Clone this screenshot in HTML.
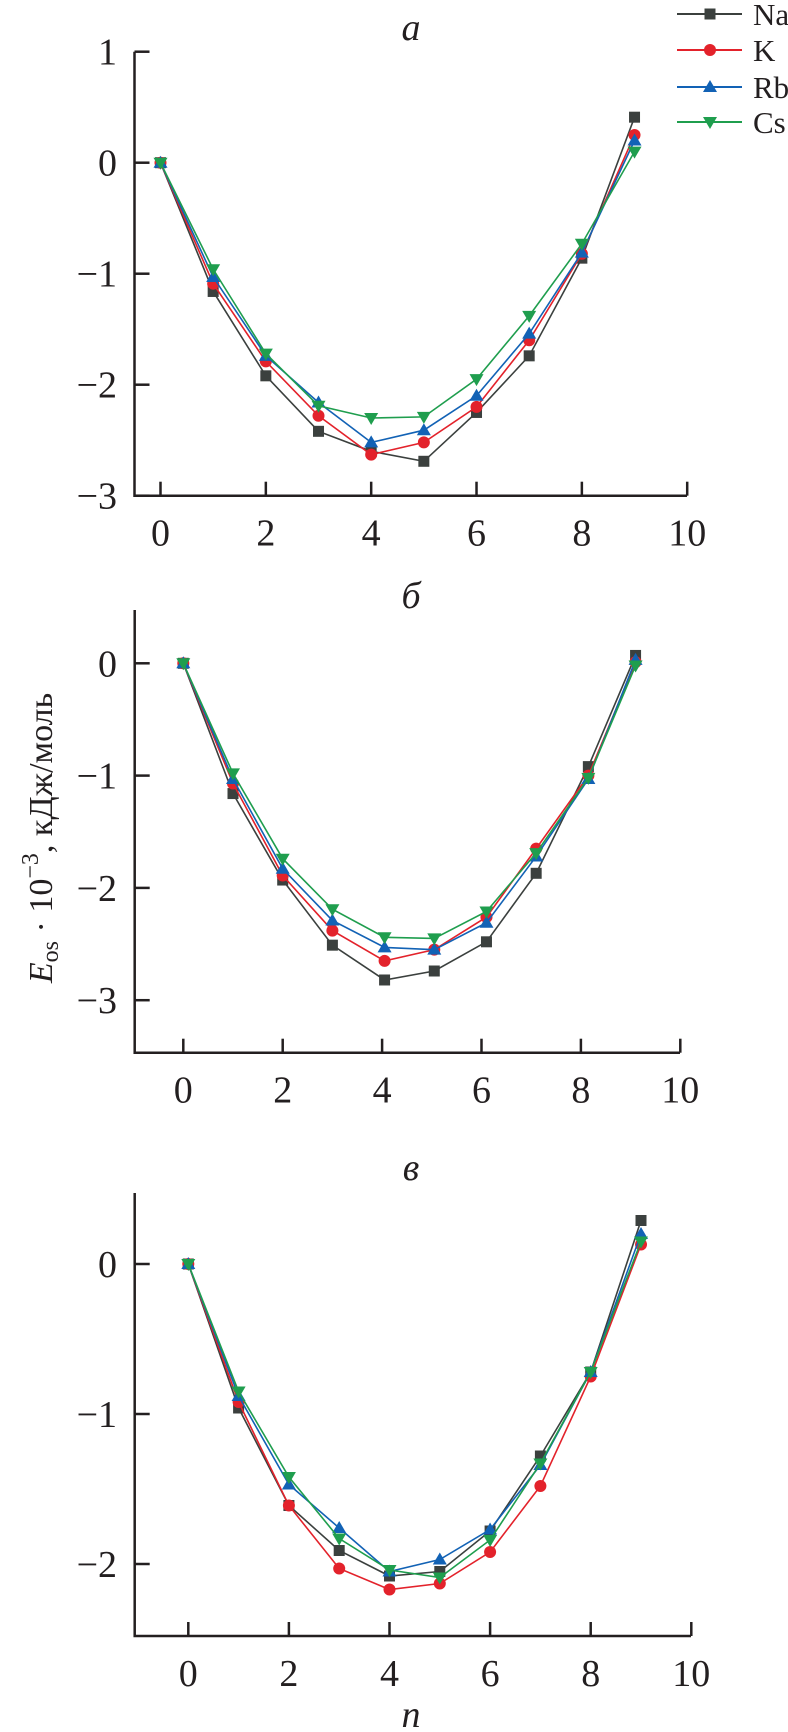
<!DOCTYPE html>
<html><head><meta charset="utf-8"><style>
html,body{margin:0;padding:0;background:#fff}
svg{display:block;font-family:"Liberation Serif",serif}
</style></head><body>
<svg id="chart" width="788" height="1732" viewBox="0 0 788 1732" xmlns="http://www.w3.org/2000/svg">
<text transform="translate(52,838) rotate(-90)" text-anchor="middle" font-size="34" fill="#231f20"><tspan font-style="italic">E</tspan><tspan font-size="24" dy="6">os</tspan><tspan dy="-6"> · 10</tspan><tspan font-size="24" dy="-14">−3</tspan><tspan dy="14">, кДж/моль</tspan></text>
<text x="411" y="1727" text-anchor="middle" font-size="38" font-style="italic" fill="#231f20">n</text>
</svg>
<script>
const seriesNames = ["Na","K","Rb","Cs"];
const nA = [0,1,2,3,4,5,6,7,8,9];
const aNa = [0,-1.16,-1.92,-2.42,-2.6,-2.69,-2.25,-1.74,-0.86,0.41];
const aK  = [0,-1.09,-1.79,-2.28,-2.63,-2.52,-2.2,-1.6,-0.82,0.25];
const aRb = [0,-1.03,-1.74,-2.16,-2.52,-2.41,-2.1,-1.54,-0.81,0.2];
const aCs = [0,-0.96,-1.72,-2.19,-2.3,-2.29,-1.95,-1.38,-0.73,0.1];
const nB = [0,1,2,3,4.05,5.05,6.1,7.1,8.15,9.1];
const bNa = [0,-1.16,-1.93,-2.51,-2.82,-2.74,-2.48,-1.87,-0.92,0.07];
const bK  = [0,-1.07,-1.89,-2.38,-2.65,-2.55,-2.26,-1.65,-1.0,0.01];
const bRb = [0,-1.03,-1.83,-2.29,-2.53,-2.55,-2.31,-1.72,-1.03,0.03];
const bCs = [0,-0.98,-1.74,-2.19,-2.44,-2.45,-2.21,-1.69,-1.02,-0.02];
const nC = [0,1,2,3,4,5,6,7,8,9];
const cNa = [0,-0.96,-1.61,-1.91,-2.08,-2.05,-1.78,-1.28,-0.72,0.29];
const cK  = [0,-0.92,-1.61,-2.03,-2.17,-2.13,-1.92,-1.48,-0.75,0.13];
const cRb = [0,-0.88,-1.47,-1.76,-2.05,-1.97,-1.77,-1.34,-0.72,0.2];
const cCs = [0,-0.85,-1.42,-1.83,-2.04,-2.09,-1.84,-1.33,-0.72,0.15];
const xTicks = [0,2,4,6,8,10];
const yTicksA = [1,0,-1,-2,-3];
const yTicksB = [0,-1,-2,-3];
const yTicksC = [0,-1,-2];

const NS="http://www.w3.org/2000/svg";
const svg=document.getElementById('chart');
const colors=["#3b403e","#e3222b","#1262b5","#1f9e4e"];
const markers=["square","circle","up","down"];
function mk(tag,attrs,parent){const e=document.createElementNS(NS,tag);for(const k in attrs)e.setAttribute(k,attrs[k]);(parent||svg).appendChild(e);return e;}
function marker(g,type,x,y,c){
  let e;
  if(type==="square"){e=mk('rect',{x:x-5.5,y:y-5.5,width:11,height:11,fill:c},g);}
  else if(type==="circle"){e=mk('circle',{cx:x,cy:y,r:6,fill:c},g);}
  else if(type==="up"){e=mk('polygon',{points:`${x},${y-7} ${x-7},${y+5} ${x+7},${y+5}`,fill:c},g);}
  else {e=mk('polygon',{points:`${x},${y+7} ${x-7},${y-5} ${x+7},${y-5}`,fill:c},g);}
  
  
}
function panel(cfg){
  const g=mk('g',{});
  
  
  const X=v=>cfg.x0+v*cfg.xs, Y=v=>cfg.y0-v*cfg.ys;
  const ax=mk('path',{d:`M${cfg.left},${cfg.top} V${cfg.bottom} H${cfg.right}`,fill:'none',stroke:'#231f20','stroke-width':2.5},g);
  
  
  cfg.yt.forEach(v=>{
    const t=mk('line',{x1:cfg.left,x2:cfg.left+15,y1:Y(v),y2:Y(v),stroke:'#231f20','stroke-width':2.5},g);
    
    
    const l=mk('text',{x:117,y:Y(v)+13,'text-anchor':'end','font-size':38,fill:'#231f20'},g);
    l.textContent=(v<0?'−':'')+Math.abs(v);
    
    
  });
  xTicks.forEach(v=>{
    const t=mk('line',{x1:X(v),x2:X(v),y1:cfg.bottom,y2:cfg.bottom-14,stroke:'#231f20','stroke-width':2.5},g);
    
    
    const l=mk('text',{x:X(v),y:cfg.bottom+50,'text-anchor':'middle','font-size':38,fill:'#231f20'},g);
    l.textContent=String(v);
    
    
  });
  const tt=mk('text',{x:411,y:cfg.titleY,'text-anchor':'middle','font-size':38,'font-style':'italic',fill:'#231f20'},g);
  tt.textContent=cfg.title;
  
  
  cfg.series.forEach((ys,i)=>{
    const sg=mk('g',{},g);
    
    
    const pl=mk('polyline',{points:ys.map((v,j)=>X(cfg.n[j])+','+Y(v)).join(' '),fill:'none',stroke:colors[i],'stroke-width':1.6},sg);
    
    
    ys.forEach((v,j)=>marker(sg,markers[i],X(cfg.n[j]),Y(v),colors[i]));
  });
}
panel({id:'a',title:'а',titleY:40,x0:160.5,xs:52.67,y0:162.7,ys:111,left:134.5,right:687,top:51.7,bottom:495.7,yt:yTicksA,n:nA,series:[aNa,aK,aRb,aCs]});
panel({id:'b',title:'б',titleY:608,x0:183.3,xs:49.7,y0:663.3,ys:112.3,left:134.7,right:680,top:610,bottom:1052.7,yt:yTicksB,n:nB,series:[bNa,bK,bRb,bCs]});
panel({id:'c',title:'в',titleY:1180,x0:188.3,xs:50.3,y0:1264,ys:150,left:134.7,right:691,top:1193,bottom:1636,yt:yTicksC,n:nC,series:[cNa,cK,cRb,cCs]});
// legend
const lg=mk('g',{});


const legY=[14,50,87,122];
seriesNames.forEach((s,i)=>{
  const eg=mk('g',{},lg);
  
  
  mk('line',{x1:677,x2:742,y1:legY[i],y2:legY[i],stroke:colors[i],'stroke-width':2},eg);
  marker(eg,markers[i],710,legY[i],colors[i]);
  const t=mk('text',{x:753,y:legY[i]+11,'font-size':31,fill:'#231f20'},eg);
  t.textContent=s;
});
</script>
</body></html>
